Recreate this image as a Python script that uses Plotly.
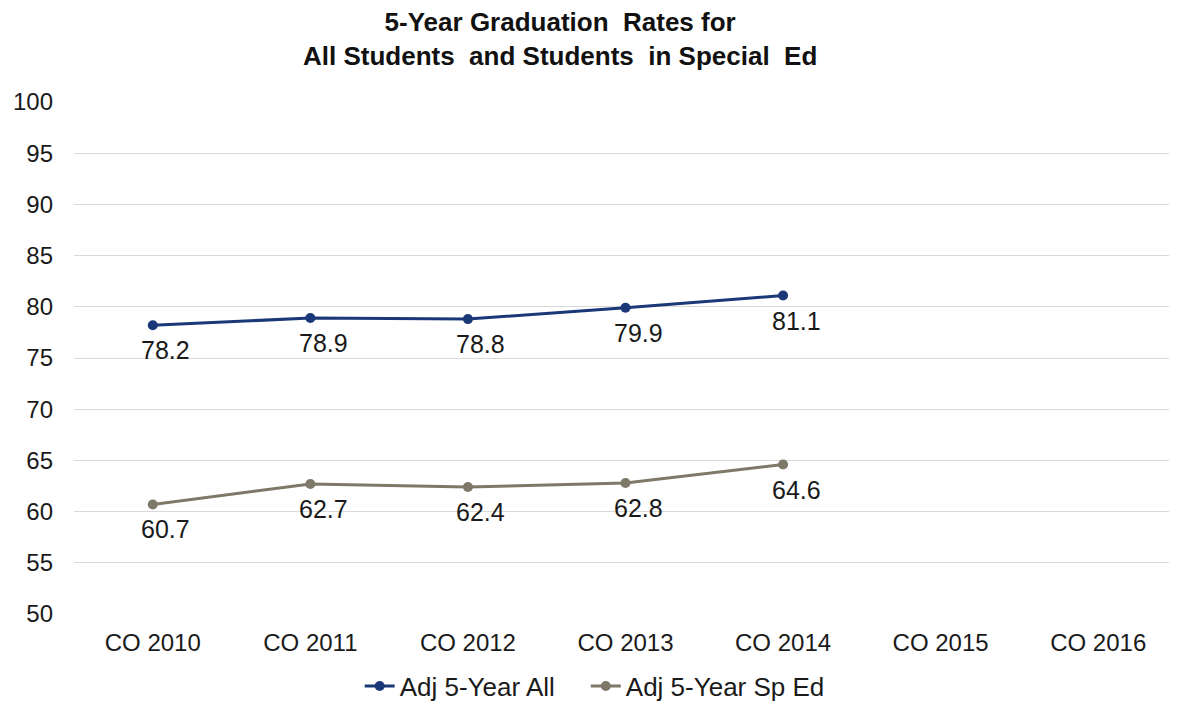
import plotly.graph_objects as go

categories = ["CO 2010", "CO 2011", "CO 2012", "CO 2013", "CO 2014", "CO 2015", "CO 2016"]
all_students = [78.2, 78.9, 78.8, 79.9, 81.1, None, None]
sped_students = [60.7, 62.7, 62.4, 62.8, 64.6, None, None]
series_names = ["Adj 5-Year All", "Adj 5-Year Sp Ed"]
y_ticks = [50, 55, 60, 65, 70, 75, 80, 85, 90, 95, 100]
title_text = "<b>5-Year Graduation  Rates for<br>All Students  and Students  in Special  Ed</b>"

colors = ["#1A3877", "#7D7868"]
legend_ids = ["legend", "legend2"]
font_family = "Liberation Sans, Arial, sans-serif"

fig = go.Figure()
for name, vals, col, lg in zip(series_names, [all_students, sped_students], colors, legend_ids):
    fig.add_trace(go.Scatter(
        x=categories, y=vals, name=name, mode="lines+markers",
        line=dict(color=col, width=3), marker=dict(color=col, size=10),
        connectgaps=False, legend=lg,
    ))
    for c, v in zip(categories, vals):
        if v is None:
            continue
        fig.add_annotation(x=c, y=v, xref="x", yref="y", text=f"{v:.1f}",
                           showarrow=False, yanchor="top", xanchor="center",
                           xshift=13, yshift=-9,
                           font=dict(size=25, color="#1a1a1a", family=font_family))

fig.add_annotation(x=0.441, y=1.19, xref="paper", yref="paper", text=title_text,
                   showarrow=False, xanchor="center", yanchor="top", align="center",
                   font=dict(size=26, color="#111111", family=font_family))

legend_style = dict(orientation="h", xanchor="left", y=-0.095, yanchor="top",
                    font=dict(size=26), itemwidth=30, bgcolor="rgba(0,0,0,0)")

fig.update_layout(
    width=1169, height=694,
    margin=dict(l=66, r=0, t=94, b=88, autoexpand=False),
    paper_bgcolor="white", plot_bgcolor="white",
    font=dict(family=font_family, size=24, color="#1a1a1a"),
    xaxis=dict(type="category", categoryorder="array", categoryarray=categories,
               range=[-0.5, 6.5], showgrid=False, showline=False, ticks="",
               tickfont=dict(size=24), ticklabelstandoff=12),
    yaxis=dict(range=[50, 100], tickvals=y_ticks, showgrid=True, gridcolor="#D9D9D9",
               gridwidth=1.3, zeroline=False, showline=False, ticks="",
               tickfont=dict(size=24), ticklabelstandoff=20),
    legend=dict(x=0.259, **legend_style),
    legend2=dict(x=0.464, **legend_style),
    showlegend=True,
)

fig.write_html("out.html")
